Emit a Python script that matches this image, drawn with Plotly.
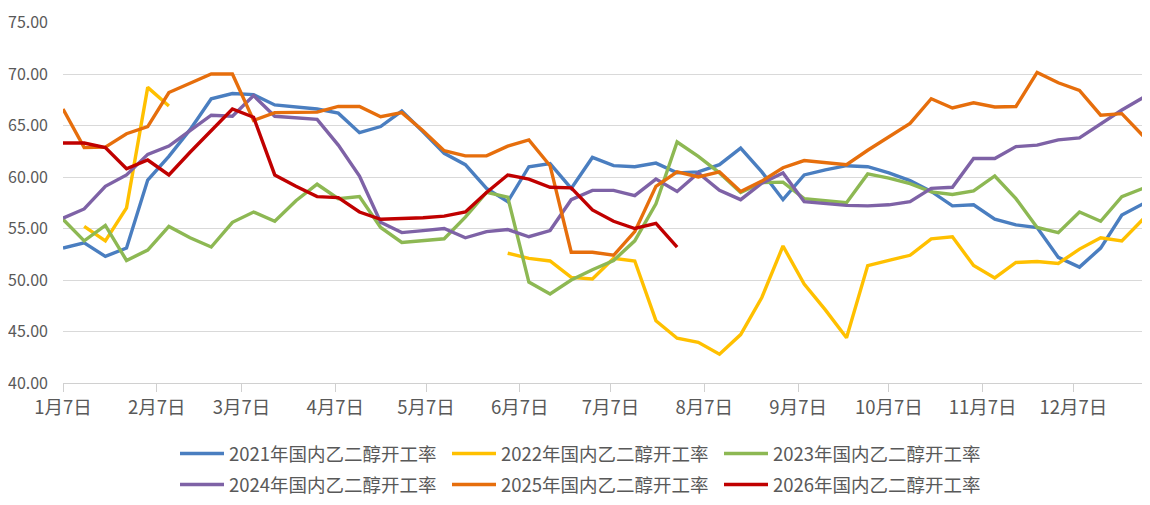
import plotly.graph_objects as go

dates = [
    "2021-01-07", "2021-01-14", "2021-01-21", "2021-01-28",
    "2021-02-04", "2021-02-11", "2021-02-18", "2021-02-25",
    "2021-03-04", "2021-03-11", "2021-03-18", "2021-03-25",
    "2021-04-01", "2021-04-08", "2021-04-15", "2021-04-22", "2021-04-29",
    "2021-05-06", "2021-05-13", "2021-05-20", "2021-05-27",
    "2021-06-03", "2021-06-10", "2021-06-17", "2021-06-24",
    "2021-07-01", "2021-07-08", "2021-07-15", "2021-07-22", "2021-07-29",
    "2021-08-05", "2021-08-12", "2021-08-19", "2021-08-26",
    "2021-09-02", "2021-09-09", "2021-09-16", "2021-09-23", "2021-09-30",
    "2021-10-07", "2021-10-14", "2021-10-21", "2021-10-28",
    "2021-11-04", "2021-11-11", "2021-11-18", "2021-11-25",
    "2021-12-02", "2021-12-09", "2021-12-16", "2021-12-23", "2021-12-30",
]

tick_dates = ["2021-01-07", "2021-02-07", "2021-03-07", "2021-04-07", "2021-05-07", "2021-06-07",
              "2021-07-07", "2021-08-07", "2021-09-07", "2021-10-07", "2021-11-07", "2021-12-07"]
tick_labels = ["1月7日", "2月7日", "3月7日", "4月7日", "5月7日", "6月7日",
               "7月7日", "8月7日", "9月7日", "10月7日", "11月7日", "12月7日"]

N = None

s2021 = [53.1, 53.6, 52.3, 53.1, 59.7, 62.0, 64.6, 67.6, 68.1, 68.0, 67.0, 66.8,
         66.6, 66.2, 64.3, 64.9, 66.4, 64.4, 62.3, 61.2, 58.9, 57.6, 61.0, 61.3,
         58.9, 61.9, 61.1, 61.0, 61.35, 60.4, 60.5, 61.2, 62.8, 60.5, 57.8, 60.2,
         60.7, 61.1, 61.0, 60.4, 59.65, 58.6, 57.2, 57.3, 55.9, 55.35, 55.1, 52.2,
         51.25, 53.1, 56.3, 57.4]

s2022 = [N, 55.2, 53.8, 57.0, 68.7, 66.9, N, N, N, N, N, N,
         N, N, N, N, N, N, N, N, N, 52.6, 52.1, 51.85,
         50.25, 50.1, 52.1, 51.85, 46.05, 44.35, 43.95, 42.8, 44.7, 48.3, 53.3, 49.6,
         47.1, 44.4, 51.4, 51.9, 52.4, 54.0, 54.2, 51.4, 50.2, 51.7, 51.8, 51.6,
         53.0, 54.1, 53.8, 55.9]

s2023 = [55.9, 53.8, 55.3, 51.9, 52.9, 55.2, 54.1, 53.2, 55.6, 56.6, 55.7, 57.7,
         59.3, 57.9, 58.1, 55.1, 53.65, 53.8, 54.0, 56.1, 58.5, 58.05, 49.8, 48.65,
         50.0, 51.0, 51.9, 53.8, 57.4, 63.4, 62.0, 60.4, 58.5, 59.45, 59.5, 57.9,
         57.7, 57.5, 60.3, 59.9, 59.35, 58.55, 58.3, 58.65, 60.1, 57.9, 55.1, 54.6,
         56.6, 55.7, 58.1, 58.9]

s2024 = [56.0, 56.9, 59.1, 60.2, 62.2, 63.0, 64.5, 66.0, 65.9, 67.9, 65.9, 65.75,
         65.6, 63.1, 60.1, 55.6, 54.6, 54.8, 55.0, 54.1, 54.7, 54.9, 54.2, 54.8,
         57.8, 58.7, 58.7, 58.2, 59.8, 58.6, 60.4, 58.7, 57.8, 59.4, 60.4, 57.6,
         57.4, 57.25, 57.2, 57.3, 57.6, 58.9, 59.0, 61.8, 61.8, 62.95, 63.1, 63.6,
         63.8, 65.2, 66.5, 67.7]

s2025 = [66.6, 62.85, 62.9, 64.2, 64.9, 68.2, 69.1, 70.0, 70.0, 65.5, 66.25, 66.3,
         66.3, 66.85, 66.85, 65.85, 66.25, 64.5, 62.55, 62.05, 62.05, 63.0, 63.6, 61.1,
         52.7, 52.7, 52.4, 54.7, 59.1, 60.5, 60.0, 60.5, 58.6, 59.6, 60.9, 61.6,
         61.4, 61.2, 62.6, 63.9, 65.2, 67.6, 66.7, 67.2, 66.8, 66.85, 70.15, 69.15,
         68.4, 66.0, 66.15, 64.0]

s2026 = [63.3, 63.3, 62.85, 60.8, 61.65, 60.2, 62.4, 64.5, 66.6, 65.8, 60.2, 59.1,
         58.1, 58.0, 56.6, 55.9, 55.95, 56.05, 56.2, 56.6, 58.5, 60.2, 59.8, 59.0,
         58.95, 56.8, 55.7, 55.0, 55.5, 53.2, N, N, N, N, N, N,
         N, N, N, N, N, N, N, N, N, N, N, N,
         N, N, N, N]

series_names = ["2021年国内乙二醇开工率", "2022年国内乙二醇开工率", "2023年国内乙二醇开工率",
                "2024年国内乙二醇开工率", "2025年国内乙二醇开工率", "2026年国内乙二醇开工率"]
series_values = [s2021, s2022, s2023, s2024, s2025, s2026]
series_colors = ["#4A7EC0", "#FFC000", "#8DB853", "#7E62A6", "#E66E0C", "#C00000"]
series_legend = ["legend", "legend", "legend", "legend2", "legend2", "legend2"]

FONT = "Noto Sans CJK SC, Microsoft YaHei, sans-serif"
TXT = "#595959"

W, H = 1150, 505  # the page places the figure 8px from the top-left corner

fig = go.Figure()
for name, vals, col, lg in zip(series_names, series_values, series_colors, series_legend):
    fig.add_trace(go.Scatter(
        x=dates, y=vals, name=name, mode="lines",
        line=dict(color=col, width=3.4),
        connectgaps=False, legend=lg,
    ))

legend_common = dict(
    orientation="h", xref="container", yref="container",
    xanchor="left", yanchor="top",
    font=dict(family=FONT, size=18.5, color=TXT),
    entrywidth=213, entrywidthmode="pixels",
    itemwidth=44, bgcolor="rgba(0,0,0,0)", borderwidth=0,
    traceorder="normal",
)

fig.update_layout(
    width=W, height=H,
    margin=dict(l=55, r=15, t=14, b=130),
    paper_bgcolor="white", plot_bgcolor="white",
    font=dict(family=FONT, size=17, color=TXT),
    showlegend=True,
    legend=dict(x=167 / W, y=1 - 427 / H, **legend_common),
    legend2=dict(x=167 / W, y=1 - 458 / H, **legend_common),
    xaxis=dict(
        type="date",
        range=["2021-01-07", "2021-12-30"],
        tickvals=tick_dates, ticktext=tick_labels,
        showgrid=False, zeroline=False,
        showline=True, linecolor="#D0D0D0", linewidth=1,
        ticks="outside", ticklen=8, tickcolor="#D0D0D0", tickwidth=1,
        tickfont=dict(family=FONT, size=18.5, color=TXT),
        ticklabelstandoff=0,
        automargin=False,
    ),
    yaxis=dict(
        range=[40, 75.05], dtick=5, tick0=40,
        tickformat=".2f",
        showgrid=True, gridcolor="#D9D9D9", gridwidth=1,
        zeroline=False, showline=False, ticks="",
        tickfont=dict(family=FONT, size=16, color=TXT),
        ticklabelstandoff=14,
        ticklabeloverflow="allow",
        automargin=False,
    ),
)

fig.write_html("out.html")
